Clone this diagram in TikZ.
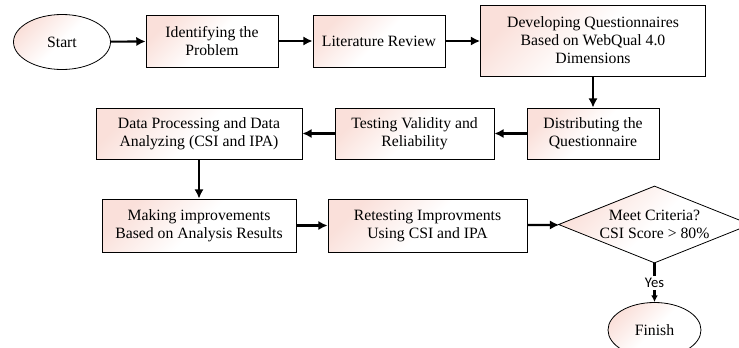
\documentclass[tikz,border=0pt]{standalone}
\usepackage{fontspec}
\setmainfont{Liberation Serif}
\newfontfamily\yesfont{Carlito}
\usetikzlibrary{shapes.geometric, arrows.meta}
\definecolor{boxpink}{RGB}{250,224,218}

\begin{document}
\begin{tikzpicture}[x=0.75pt, y=-0.75pt,
  stepbox/.style={rectangle, draw, line width=0.6pt, top color=boxpink, bottom color=white, middle color=white, shading angle=45, align=center, inner sep=1pt, font=\fontsize{11.8pt}{13.5pt}\selectfont},
  endbox/.style={stepbox, ellipse},
  askbox/.style={stepbox, diamond, aspect=2.5, inner sep=0pt},
  flow/.style={-{Latex[length=7pt,width=7pt]}, line width=1.6pt}]

 \useasboundingbox (0,0) rectangle (739,347);

 %%%  nodes

 % first row
 \node [endbox, minimum width=72.75pt, minimum height=41.25pt] (start) at (62,42) {Start};
 \node [stepbox, minimum width=99pt, minimum height=39pt] (ident) at (212,41) {Identifying the\\Problem};
 \node [stepbox, minimum width=99pt, minimum height=39pt] (lit) at (379,41) {Literature Review};
 \node [stepbox, minimum width=168.75pt, minimum height=53.25pt] (dev) at (593,40.5) {Developing Questionnaires\\Based on WebQual 4.0\\Dimensions};

 % second row
 \node [stepbox, minimum width=99pt, minimum height=38.25pt] (dist) at (593,133.5) {Distributing the\\Questionnaire};
 \node [stepbox, minimum width=119.25pt, minimum height=38.25pt] (test) at (414.5,133.5) {Testing Validity and\\Reliability};
 \node [stepbox, minimum width=154.5pt, minimum height=38.25pt] (data) at (199,133.5) {Data Processing and Data\\Analyzing (CSI and IPA)};

 % third row
 \node [stepbox, minimum width=145.5pt, minimum height=39.75pt] (make) at (199,225.5) {Making improvements\\Based on Analysis Results};
 \node [stepbox, minimum width=149.25pt, minimum height=39.75pt] (retest) at (427.5,225.5) {Retesting Improvments\\Using CSI and IPA};
 \node [askbox, minimum width=144pt, minimum height=57.75pt] (crit) at (654.5,224.5) {Meet Criteria?\\CSI Score > 80\%};
 \node [endbox, minimum width=69.75pt, minimum height=41.25pt] (finish) at (654.5,330) {Finish};

 %%%  arrows

 \draw [flow] (start) -- (ident);
 \draw [flow] (ident) -- (lit);
 \draw [flow] (lit.east) -- (dev.west |- lit.east);
 \draw [flow] (dev) -- (dist);
 \draw [flow] (dist) -- (test);
 \draw [flow] (test) -- (data);
 \draw [flow] (data) -- (make);
 \draw [flow] (make) -- (retest);
 \draw [flow] (retest) -- (crit);
 \draw [line width=1.6pt, -{Latex[length=5pt,width=5pt]}] (crit) -- node [fill=white, inner sep=1.5pt, font=\yesfont\fontsize{11pt}{12pt}\selectfont] {Yes} (finish);

\end{tikzpicture}
\end{document}
